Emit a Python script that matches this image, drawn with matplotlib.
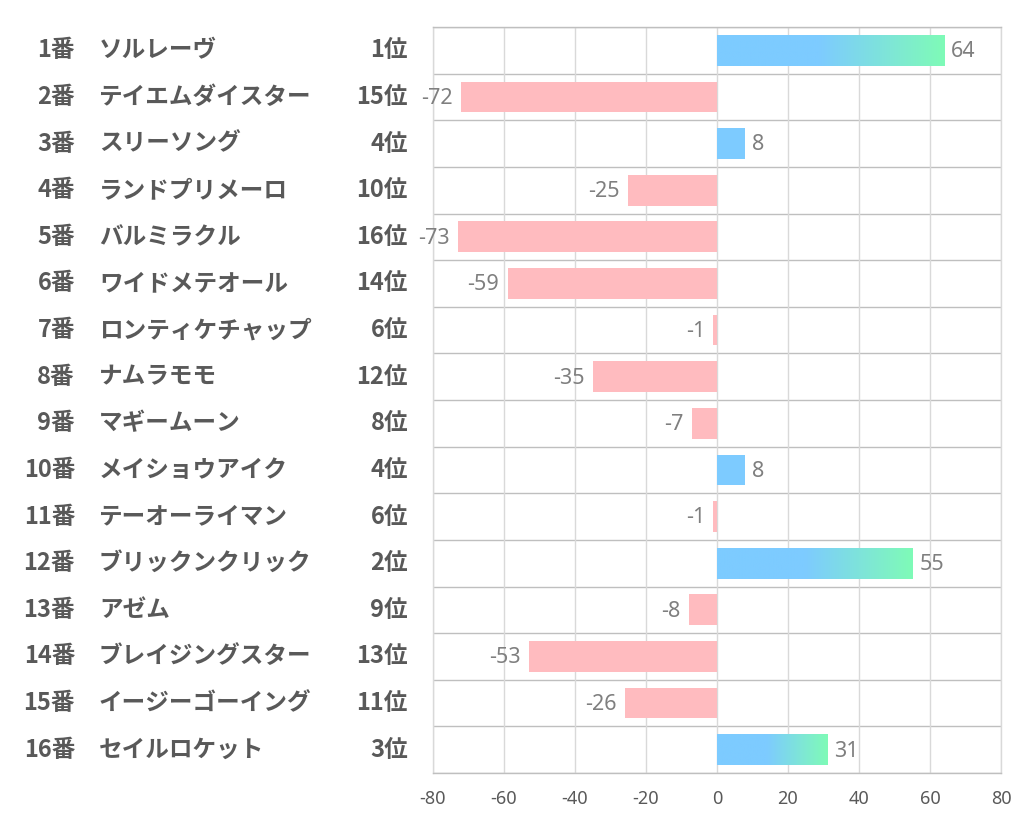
import matplotlib
matplotlib.use('Agg')
import matplotlib.pyplot as plt
import matplotlib.transforms as mtransforms
import numpy as np

plt.rcParams['font.family'] = ['Noto Sans CJK JP', 'DejaVu Sans']
plt.rcParams['axes.unicode_minus'] = False

# data
numbers = ['1番', '2番', '3番', '4番', '5番', '6番', '7番', '8番',
           '9番', '10番', '11番', '12番', '13番', '14番', '15番', '16番']
names = ['ソルレーヴ', 'テイエムダイスター', 'スリーソング', 'ランドプリメーロ',
         'バルミラクル', 'ワイドメテオール', 'ロンティケチャップ', 'ナムラモモ',
         'マギームーン', 'メイショウアイク', 'テーオーライマン', 'ブリックンクリック',
         'アゼム', 'ブレイジングスター', 'イージーゴーイング', 'セイルロケット']
ranks = ['1位', '15位', '4位', '10位', '16位', '14位', '6位', '12位',
         '8位', '4位', '6位', '2位', '9位', '13位', '11位', '3位']
values = [64, -72, 8, -25, -73, -59, -1, -35, -7, 8, -1, 55, -8, -53, -26, 31]

blue = np.array([125, 203, 255]) / 255
green = np.array([127, 251, 183]) / 255
pink = '#FFBBBF'
txt = '#595959'
numfont = ['Noto Sans', 'DejaVu Sans']

fig = plt.figure(figsize=(10.22, 8.34), dpi=100)
ax = fig.add_axes([433 / 1022, 61 / 834, 568 / 1022, 746 / 834])

y = np.arange(len(values))
h = 0.66
bars = ax.barh(y, values, height=h, zorder=3,
               color=[pink if v < 0 else blue for v in values])

# gradient on the longer blue bars (blue up to about half, then to green)
t = np.linspace(0, 1, 256)
k = np.clip((t - 0.45) / 0.55, 0, 1)
grad = (blue[None, :] * (1 - k[:, None]) + green[None, :] * k[:, None])[None, :, :]
for rect, v in zip(bars, values):
    if v >= 20:
        im = ax.imshow(grad, extent=(0, v, rect.get_y() + h, rect.get_y()),
                       aspect='auto', zorder=4, interpolation='bilinear')
        im.set_clip_path(rect)

# value labels
for rect, v in zip(bars, values):
    yc = rect.get_y() + h / 2
    if v >= 0:
        ax.annotate(str(v), (v, yc), xytext=(5, -1), textcoords='offset points',
                    ha='left', va='center', fontsize=15.5, color='#7F7F7F',
                    family=numfont, zorder=5)
    else:
        ax.annotate(str(v), (v, yc), xytext=(-6, -1), textcoords='offset points',
                    ha='right', va='center', fontsize=15.5, color='#7F7F7F',
                    family=numfont, zorder=5)

ax.set_xlim(-80, 80)
ax.set_ylim(len(values) - 0.5, -0.5)
ax.set_xticks(np.arange(-80, 81, 20))
ax.set_yticks([])
ax.tick_params(axis='x', length=0, pad=12, labelsize=13, labelcolor='#595959')
for lab in ax.get_xticklabels():
    lab.set_family(numfont)
ax.grid(axis='x', color='#D9D9D9', linewidth=1, zorder=0)
for b in np.arange(-0.5, len(values), 1):
    ax.axhline(b, color='#BFBFBF', linewidth=1, zorder=1)
for s in ax.spines.values():
    s.set_color('#BFBFBF')
    s.set_linewidth(1)
ax.spines['right'].set_color('#D9D9D9')
ax.spines['left'].set_color('#D9D9D9')

# left labels
tr = mtransforms.blended_transform_factory(fig.transFigure, ax.transData)
for i in range(len(values)):
    ax.text(75 / 1022, i, numbers[i], transform=tr, ha='right', va='center',
            fontsize=17, fontweight='bold', color=txt)
    ax.text(99 / 1022, i, names[i], transform=tr, ha='left', va='center',
            fontsize=17, fontweight='bold', color=txt)
    ax.text(408 / 1022, i, ranks[i], transform=tr, ha='right', va='center',
            fontsize=17, fontweight='bold', color=txt)

fig.savefig('out.png', dpi=100)
